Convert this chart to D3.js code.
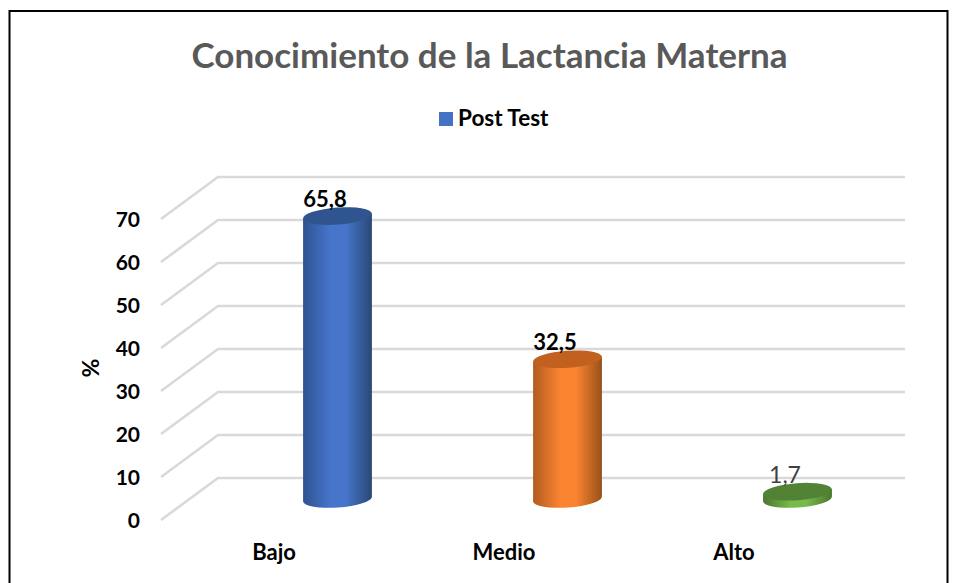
<!DOCTYPE html>
<html>
<head>
<meta charset="utf-8">
<script src="https://cdn.jsdelivr.net/npm/d3@7"></script>
<style>
  html, body { margin: 0; padding: 0; background: #fff; overflow: hidden; }
  svg { display: block; }
  text { font-family: Lato, "Open Sans", sans-serif; }
</style>
</head>
<body>
<script>
// chart data
var categories = ["Bajo", "Medio", "Alto"];
var postTest = [65.8, 32.5, 1.7];
var valueLabels = ["65,8", "32,5", "1,7"];
var yTicks = [0, 10, 20, 30, 40, 50, 60, 70];
var seriesName = "Post Test";
var chartTitle = "Conocimiento de la Lactancia Materna";
var yTitle = "%";

var svgWidth = 958;
var svgHeight = 583;

// colors per bar: edge, middle, right edge, lid
var barColors = [
  { edge: "#2f5391", mid: "#4675cb", right: "#2a4876", lid: "#30548f" },
  { edge: "#b25c20", mid: "#fb8431", right: "#985019", lid: "#c2601f" },
  { edge: "#4c7530", mid: "#76bb4b", right: "#4c7530", lid: "#528234" }
];

var svg = d3.select("body")
  .append("svg")
  .attr("width", svgWidth)
  .attr("height", svgHeight);

// outer frame, runs off the bottom of the picture
svg.append("rect")
  .attr("x", 9.5)
  .attr("y", 11)
  .attr("width", 938)
  .attr("height", 600)
  .attr("fill", "#fff")
  .attr("stroke", "#000")
  .attr("stroke-width", 2);

// floor depth of the 3d chart
var depthX = 57;
var depthY = -42;

var xScale = d3.scaleBand().domain(categories).range([158, 848]);
var yScale = d3.scaleLinear().domain([0, 70]).range([520, 219]);

// grid: diagonal on the side wall, then straight along the back wall
svg.append("g")
  .selectAll("path")
  .data(yTicks)
  .enter()
  .append("path")
  .attr("d", d => `M161,${yScale(d)}L${161 + depthX},${yScale(d) + depthY}H905`)
  .attr("fill", "none")
  .attr("stroke", "#d9d9d9")
  .attr("stroke-width", 2.6);

// y axis
var yAxis = svg.append("g")
  .attr("transform", "translate(140,0)")
  .call(d3.axisLeft(yScale).tickValues(yTicks).tickSize(0).tickPadding(0));
yAxis.select(".domain").remove();
yAxis.selectAll("text")
  .attr("dy", "0.32em")
  .style("font-family", "Lato, sans-serif")
  .style("font-size", "21px")
  .style("font-weight", 700)
  .attr("fill", "#000");
yAxis.selectAll(".tick text").attr("transform", "translate(0,0.5)");

// x axis
var xAxis = svg.append("g")
  .attr("transform", "translate(1,544)")
  .call(d3.axisBottom(xScale).tickSize(0).tickPadding(0));
xAxis.select(".domain").remove();
xAxis.selectAll("text")
  .style("font-family", "Lato, sans-serif")
  .style("font-size", "22px")
  .style("font-weight", 700)
  .attr("fill", "#000");

// gradients for the cylinder sides
var defs = svg.append("defs");
barColors.forEach(function(c, i) {
  var g = defs.append("linearGradient").attr("id", "bar" + i);
  g.append("stop").attr("offset", "0%").attr("stop-color", c.edge);
  g.append("stop").attr("offset", "40%").attr("stop-color", c.mid);
  g.append("stop").attr("offset", "62%").attr("stop-color", c.mid);
  g.append("stop").attr("offset", "100%").attr("stop-color", c.right);
});

// cylinders
var rx = 34.5;
var ry = 8.5;
var tilt = 4;
var barDx = 64.5;
var barDy = -21;
var cosT = Math.cos(tilt * Math.PI / 180);
var sinT = Math.sin(tilt * Math.PI / 180);

var data = categories.map(function(c, i) {
  return { cat: c, value: postTest[i], label: valueLabels[i], i: i };
});

function cx(d) { return xScale(d.cat) + xScale.bandwidth() / 2 + barDx; }
function topY(d) { return yScale(d.value) + barDy; }

var bars = svg.append("g")
  .selectAll("g")
  .data(data)
  .enter()
  .append("g");

bars.append("path")
  .attr("fill", d => `url(#bar${d.i})`)
  .attr("d", function(d) {
    var x0 = cx(d);
    var y0 = yScale(0) + barDy;
    var y1 = topY(d);
    var dx = rx * cosT;
    var dy = rx * sinT;
    return `M${x0 - dx},${y1 + dy}L${x0 + dx},${y1 - dy}L${x0 + dx},${y0 - dy}` +
      `A${rx},${ry} ${-tilt} 0 1 ${x0 - dx},${y0 + dy}Z`;
  });

bars.append("ellipse")
  .attr("cx", cx)
  .attr("cy", topY)
  .attr("rx", rx)
  .attr("ry", ry)
  .attr("transform", d => `rotate(${-tilt} ${cx(d)} ${topY(d)})`)
  .attr("fill", d => barColors[d.i].lid);

// data labels, the last one is thin and gray in the original
bars.append("text")
  .attr("x", d => cx(d) - 12.5)
  .attr("y", d => topY(d) - 9)
  .attr("text-anchor", "middle")
  .style("font-size", d => d.i == 2 ? "23px" : "22px")
  .style("font-weight", d => d.i == 2 ? 400 : 700)
  .attr("fill", d => d.i == 2 ? "#404040" : "#000")
  .text(d => d.label);

// title
svg.append("text")
  .attr("x", 489.5)
  .attr("y", 68)
  .attr("text-anchor", "middle")
  .style("font-size", "35px")
  .style("font-weight", 700)
  .attr("fill", "#595959")
  .text(chartTitle);

// legend
svg.append("rect")
  .attr("x", 439)
  .attr("y", 112)
  .attr("width", 14)
  .attr("height", 14)
  .attr("fill", "#4472c4");
svg.append("text")
  .attr("x", 458)
  .attr("y", 126)
  .style("font-size", "22.5px")
  .style("font-weight", 700)
  .attr("fill", "#000")
  .text(seriesName);

// y axis title
svg.append("text")
  .attr("transform", "translate(99,368) rotate(-90)")
  .attr("text-anchor", "middle")
  .style("font-size", "23px")
  .style("font-weight", 700)
  .attr("fill", "#000")
  .text(yTitle);
</script>
</body>
</html>
